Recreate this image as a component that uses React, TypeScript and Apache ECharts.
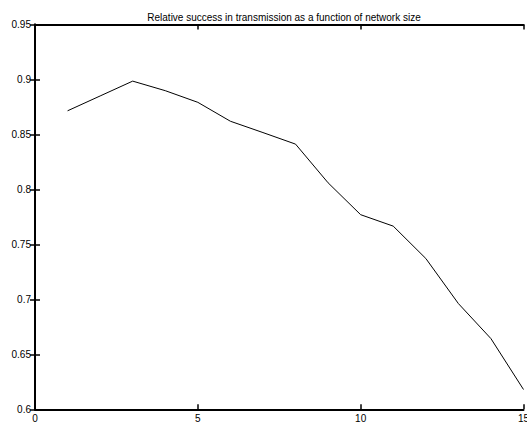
import React, { useEffect, useRef } from "react";
import * as echarts from "echarts";

const xValues = [1, 2, 3, 4, 5, 6, 7, 8, 9, 10, 11, 12, 13, 14, 15];
const successValues = [
  0.8715, 0.885, 0.8985, 0.8898, 0.8792, 0.862, 0.8517, 0.8412, 0.806,
  0.777, 0.7666, 0.7372, 0.6962, 0.6643, 0.618,
];
const titleText = "Relative success in transmission as a function of network size";

export default function App() {
  const ref = useRef<HTMLDivElement>(null);
  useEffect(() => {
    document.body.style.margin = "0";
    const chart = echarts.init(ref.current!, undefined, { renderer: "svg" });
    const font = "Liberation Sans, Arial, Helvetica, sans-serif";
    const axisLine = () => ({ show: true, lineStyle: { color: "#000", width: 2 } });
    const axisTick = () => ({ show: true, inside: true, length: 5, lineStyle: { color: "#000", width: 1.5 } });
    chart.setOption({
      animation: false,
      backgroundColor: "#fff",
      title: {
        text: titleText,
        left: 279,
        top: 7,
        textAlign: "center",
        textStyle: { fontFamily: font, fontSize: 10, fontWeight: "normal", color: "#000" },
      },
      grid: {
        left: 35,
        right: 3.5,
        top: 24.5,
        bottom: 15.7,
        containLabel: false,
        outerBoundsMode: "none",
      },
      xAxis: [
        {
          type: "value",
          min: 0,
          max: 15,
          interval: 5,
          position: "bottom",
          axisLine: axisLine(),
          axisTick: axisTick(),
          splitLine: { show: false },
          axisLabel: {
            color: "#000",
            fontFamily: font,
            fontSize: 10,
            margin: 4,
            showMaxLabel: true,
            alignMaxLabel: "center",
            alignMinLabel: "center",
          },
        },
        {
          type: "value",
          min: 0,
          max: 15,
          interval: 5,
          position: "top",
          axisLine: axisLine(),
          axisTick: axisTick(),
          splitLine: { show: false },
          axisLabel: { show: false },
        },
      ],
      yAxis: [
        {
          type: "value",
          min: 0.6,
          max: 0.95,
          interval: 0.05,
          position: "left",
          axisLine: axisLine(),
          axisTick: axisTick(),
          splitLine: { show: false },
          axisLabel: {
            color: "#000",
            fontFamily: font,
            fontSize: 10,
            margin: 4,
            formatter: (v: number) => String(parseFloat(v.toFixed(2))),
          },
        },
        {
          type: "value",
          min: 0.6,
          max: 0.95,
          interval: 0.05,
          position: "right",
          axisLine: axisLine(),
          axisTick: axisTick(),
          splitLine: { show: false },
          axisLabel: { show: false },
        },
      ],
      series: [
        {
          type: "line",
          data: xValues.map((x, i) => [x, successValues[i]]),
          xAxisIndex: 0,
          yAxisIndex: 0,
          showSymbol: false,
          symbol: "none",
          lineStyle: { color: "#000", width: 1 },
        },
      ],
    });
    return () => chart.dispose();
  }, []);
  return <div ref={ref} style={{ width: 527, height: 425 }} />;
}
